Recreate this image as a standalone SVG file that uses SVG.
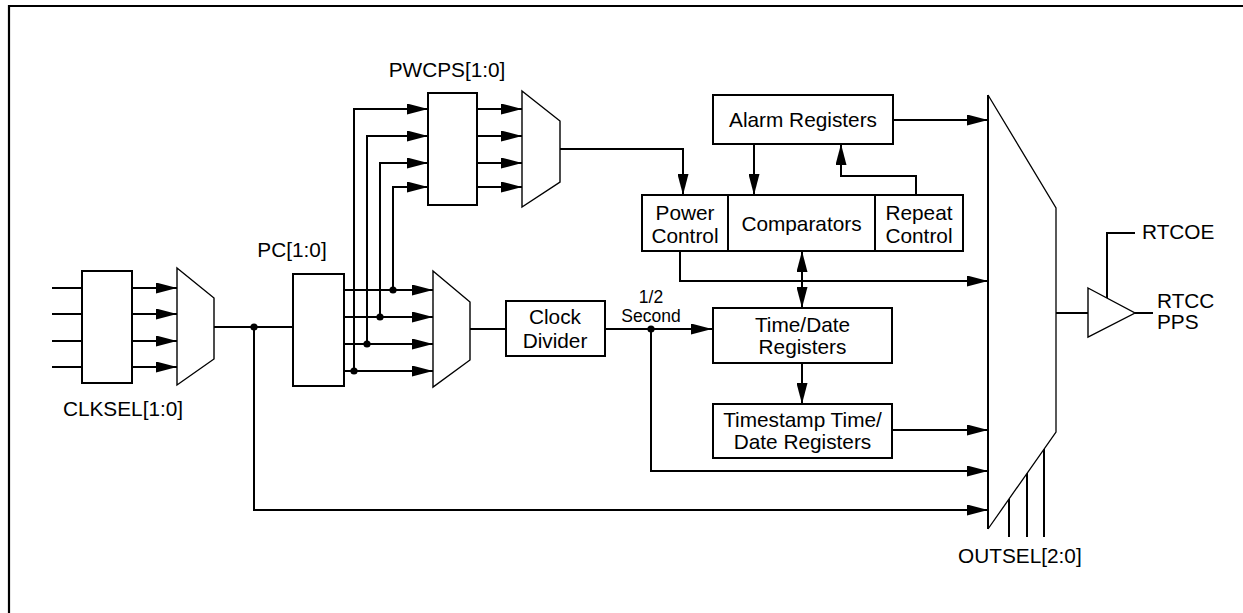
<svg xmlns="http://www.w3.org/2000/svg" width="1243" height="613" viewBox="0 0 1243 613">
<style>
text{font-family:"Liberation Sans",Arial,sans-serif;fill:#000}
.lbl{font-size:20.8px}
.sm{font-size:17.5px}
.mid{text-anchor:middle}
.box{fill:#fff;stroke:#000;stroke-width:2}
.mux{fill:#fff;stroke:#000;stroke-width:1.4}
.w{fill:none;stroke:#000;stroke-width:2}
.a{fill:none;stroke:#000;stroke-width:2;marker-end:url(#ah)}
.dot{fill:#000}
</style>
<defs>
<marker id="ah" markerUnits="userSpaceOnUse" markerWidth="21" markerHeight="11" refX="21" refY="5.5" orient="auto-start-reverse"><path d="M0,0 L21,5.5 L0,11 z" fill="#000"/></marker>
</defs>
<rect width="1243" height="613" fill="#fff"/>
<g id="frame"><path d="M9,613 L9,6 L1243,6" fill="none" stroke="#000" stroke-width="2.2"/></g>

<g id="connectors">
<path class="w" d="M52,288 H82 M52,314 H82 M52,341 H82 M52,367 H82"/>
<path class="a" d="M132,288 H177"/><path class="a" d="M132,314 H177"/><path class="a" d="M132,341 H177"/><path class="a" d="M132,367 H177"/>
<path class="w" d="M214,327 H293"/>
<path class="a" d="M254,327 V510 H988"/>
<path class="a" d="M344,290 H433"/><path class="a" d="M344,317 H433"/><path class="a" d="M344,344 H433"/><path class="a" d="M344,371 H433"/>
<path class="a" d="M354,371 V109 H428"/>
<path class="a" d="M367,344 V136 H428"/>
<path class="a" d="M380,317 V163 H428"/>
<path class="a" d="M393,290 V187 H428"/>
<path class="a" d="M477,109 H522"/><path class="a" d="M477,136 H522"/><path class="a" d="M477,163 H522"/><path class="a" d="M477,187 H522"/>
<path class="a" d="M560,149 H683 V195"/>
<path class="w" d="M470,329 H506"/>
<path class="a" d="M605,329 H712"/>
<path class="a" d="M651,329 V471 H988"/>
<path class="a" d="M893,120 H988"/>
<path class="a" d="M754,144 V195"/>
<path class="a" d="M916,195 V176 H841 V144"/>
<path class="a" d="M680,251 V281 H988"/>
<path class="a" d="M802,251 V308" style="marker-start:url(#ah)"/>
<path class="a" d="M802,363 V404"/>
<path class="a" d="M892,430 H988"/>
<path class="w" d="M1056,313 H1088"/>
<path class="w" d="M1135,313 H1153"/>
<path class="w" d="M1107,298 V233 H1135"/>
<path class="w" d="M1009,499 V537 M1027,473 V537 M1044,449 V537"/>
</g>
<g id="dots">
<circle class="dot" cx="254" cy="327" r="3.6"/>
<circle class="dot" cx="393" cy="290" r="3.6"/>
<circle class="dot" cx="380" cy="317" r="3.6"/>
<circle class="dot" cx="367" cy="344" r="3.6"/>
<circle class="dot" cx="354" cy="371" r="3.6"/>
<circle class="dot" cx="651" cy="329" r="3.6"/>
</g>

<g id="clksel">
<rect class="box" x="82" y="271" width="50" height="112"/>
<text class="lbl mid" x="123" y="416">CLKSEL[1:0]</text>
</g>
<g id="mux1"><polygon class="mux" points="177,268 214,298 214,359 177,385"/></g>
<g id="pc">
<rect class="box" x="293" y="274" width="51" height="112"/>
<text class="lbl mid" x="292" y="257">PC[1:0]</text>
</g>
<g id="mux2"><polygon class="mux" points="433,271 470,302 470,360 433,387"/></g>
<g id="pwcps">
<rect class="box" x="428" y="93" width="49" height="112"/>
<text class="lbl mid" x="447" y="77">PWCPS[1:0]</text>
</g>
<g id="mux3"><polygon class="mux" points="522,91 560,121 560,182 522,207"/></g>
<g id="clockdiv">
<rect class="box" x="506" y="301" width="99" height="55"/>
<text class="lbl mid" x="555" y="324">Clock</text>
<text class="lbl mid" x="555" y="348">Divider</text>
</g>
<g id="half"><text class="sm mid" x="651" y="303">1/2</text><text class="sm mid" x="651" y="322">Second</text></g>
<g id="alarm">
<rect class="box" x="713" y="95" width="180" height="49"/>
<text class="lbl mid" x="803" y="127">Alarm Registers</text>
</g>
<g id="powerctl">
<rect class="box" x="642" y="195" width="86" height="56"/>
<text class="lbl mid" x="685" y="220">Power</text>
<text class="lbl mid" x="685" y="243">Control</text>
</g>
<g id="comparators">
<rect class="box" x="728" y="195" width="147" height="56"/>
<text class="lbl mid" x="801.5" y="231">Comparators</text>
</g>
<g id="repeat">
<rect class="box" x="875" y="195" width="88" height="56"/>
<text class="lbl mid" x="919" y="220">Repeat</text>
<text class="lbl mid" x="919" y="243">Control</text>
</g>
<g id="timedate">
<rect class="box" x="713" y="308" width="179" height="55"/>
<text class="lbl mid" x="802.5" y="332">Time/Date</text>
<text class="lbl mid" x="802.5" y="354">Registers</text>
</g>
<g id="timestamp">
<rect class="box" x="713" y="404" width="179" height="54"/>
<text class="lbl mid" x="802.5" y="427">Timestamp Time/</text>
<text class="lbl mid" x="802.5" y="449">Date Registers</text>
</g>
<g id="outmux">
<path d="M988,95 L1056,208 V432 L988,529" fill="#fff" stroke="#000" stroke-width="1.3"/>
<path d="M988,95 V529" stroke="#000" stroke-width="2"/>
<text class="lbl" x="958" y="563">OUTSEL[2:0]</text>
</g>
<g id="buffer">
<polygon points="1088,288 1135,313 1088,337" fill="#fff" stroke="#000" stroke-width="1.4"/>
<text class="lbl" x="1142" y="239">RTCOE</text>
<text class="lbl" x="1157" y="308">RTCC</text>
<text class="lbl" x="1157" y="329">PPS</text>
</g>
</svg>
